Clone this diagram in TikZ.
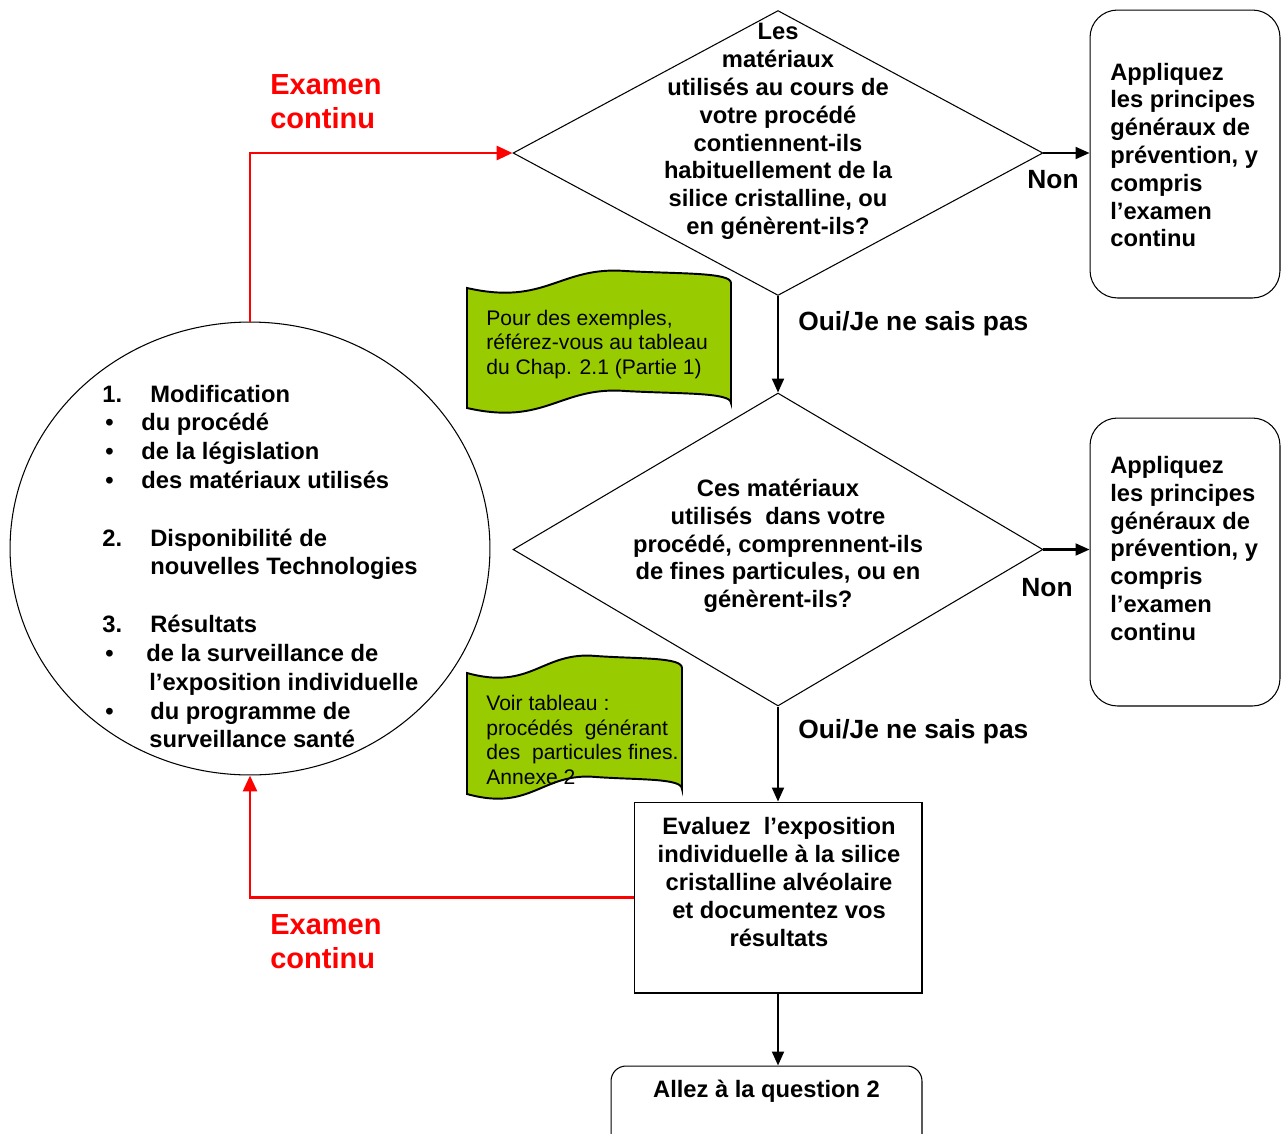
\documentclass[tikz,border=0pt]{standalone}
\usepackage{fontspec}
\setmainfont{Liberation Sans}
\usetikzlibrary{arrows.meta,shapes.geometric}
\definecolor{leaf}{RGB}{153,204,0}
\tikzset{
	question/.style={diamond, draw, line width=0.6pt, minimum width=10.6cm, inner sep=0pt},
	answer/.style={draw, line width=0.6pt, rounded corners=0.55cm, minimum width=3.8cm, minimum height=5.76cm},
	btext/.style={inner sep=0pt, font=\fontsize{13.5}{15.8}\selectfont\bfseries, align=center},
	edgelbl/.style={inner sep=0pt, font=\fontsize{15}{18}\selectfont\bfseries},
	note/.style={inner sep=0pt, font=\fontsize{12}{14}\selectfont, align=left, anchor=west},
	redlbl/.style={inner sep=0pt, text=red, font=\fontsize{16.5}{19.4}\selectfont\bfseries, align=left, anchor=west},
	flow/.style={line width=1.2pt, -{Triangle[length=0.28cm,width=0.24cm]}},
	review/.style={red, line width=1.7pt, -{Triangle[length=0.32cm,width=0.28cm]}},
	flag/.style={draw, line width=1.1pt, fill=leaf}
}
% wave shaped note: left, right, top, bottom (pixels)
\newcommand{\greenflag}[4]{%
	\draw[flag] (#1,#3) .. controls ({#1+0.3*(#2-#1)},{#3+18}) and ({#1+0.35*(#2-#1)},{#3-22}) .. ({#1+0.6*(#2-#1)},{#3-17})
		.. controls ({#1+0.8*(#2-#1)},{#3-14}) and (#2,{#3-16}) .. (#2,{#3-5})
		-- (#2,{#4-5}) .. controls (#2,{#4-16}) and ({#1+0.8*(#2-#1)},{#4-14}) .. ({#1+0.6*(#2-#1)},{#4-17})
		.. controls ({#1+0.35*(#2-#1)},{#4-22}) and ({#1+0.3*(#2-#1)},{#4+18}) .. (#1,#4) -- cycle;}

\begin{document}
\begin{tikzpicture}[x=0.02cm,y=-0.02cm]
			%%%%% START %%%%%
			\useasboundingbox (0,0) rectangle (1281,1133);
			\clip (0,0) rectangle (1281,1133);
			
			% questions
			\node[question, minimum height=5.7cm] (q1) at (778,153) {};
			\node[btext] (q1txt) at (778,131.5) {Les\\ matériaux\\ utilisés au cours de\\ votre procédé\\ contiennent-ils\\ habituellement de la\\ silice cristalline, ou\\ en génèrent-ils?};
			\node[question, minimum height=6.26cm] (q2) at (778,549.5) {};
			\node[btext] (q2txt) at (778,546) {Ces matériaux\\ utilisés~ dans votre\\ procédé, comprennent-ils\\ de fines particules, ou en\\ génèrent-ils?};
			
			% general principles
			\node[answer] (a1) at (1185,154) {};
			\node[btext, align=left, anchor=west] (a1txt) at (1110,155) {Appliquez\\ les principes\\ généraux de\\ prévention, y\\ compris\\ l’examen\\ continu};
			\node[answer] (a2) at (1185,562) {};
			\node[btext, align=left, anchor=west] (a2txt) at (1110,548.5) {Appliquez\\ les principes\\ généraux de\\ prévention, y\\ compris\\ l’examen\\ continu};
			
			% evaluation and next step
			\node[draw, line width=0.6pt, minimum width=5.76cm, minimum height=3.82cm] (eval) at (778,897.5) {};
			\node[btext] (evaltxt) at (779,882) {Evaluez~ l’exposition\\ individuelle à la silice\\ cristalline alvéolaire\\ et documentez vos\\ résultats};
			\node[draw, line width=0.6pt, rounded corners=0.3cm, minimum width=6.22cm, minimum height=2cm] (next) at (766.5,1116) {};
			\node[btext] (nexttxt) at (766.5,1091) {Allez à la question 2};
			
			% triggers for a review
			\node[draw, ellipse, line width=0.6pt, minimum width=9.6cm, minimum height=9.06cm, inner sep=0pt] (mods) at (250,548.5) {};
			\node[btext, align=left, anchor=west, font=\fontsize{13.5}{16.4}\selectfont\bfseries] (modstxt) at (102,566.5) {%
				\makebox[0.78cm][l]{1.}\hspace*{0.18cm}Modification\\
				\hspace*{0.06cm}\makebox[0.72cm][l]{\textbullet}du procédé\\
				\hspace*{0.06cm}\makebox[0.72cm][l]{\textbullet}de la législation\\
				\hspace*{0.06cm}\makebox[0.72cm][l]{\textbullet}des matériaux utilisés\\[16.4pt]
				\makebox[0.96cm][l]{2.}Disponibilité de\\
				\hspace*{0.96cm}nouvelles Technologies\\[16.4pt]
				\makebox[0.96cm][l]{3.}Résultats\\
				\hspace*{0.06cm}\makebox[0.82cm][l]{\textbullet}de la surveillance de\\
				\hspace*{0.94cm}l’exposition individuelle\\
				\hspace*{0.06cm}\makebox[0.90cm][l]{\textbullet}du programme de\\
				\hspace*{0.94cm}surveillance santé};
			
			% notes
			\greenflag{467}{731}{288}{408}
			\node[note] (note1) at (486,344.5) {Pour des exemples,\\ référez-vous au tableau\\ du Chap. 2.1 (Partie 1)};
			\greenflag{467}{682}{673}{794}
			\node[note] (note2) at (486,740) {Voir tableau :\\ procédés~ générant\\ des~ particules fines.\\ Annexe 2};
			
			% connectors
			\draw[flow] (q1.south) -- (q2.north);
			\draw[flow] (q2.south) -- (eval.north);
			\draw[flow] (eval.south) -- (eval.south |- next.north);
			\draw[flow] (q1.east) -- (q1.east -| a1.west);
			\draw[flow] (q2.east) -- (q2.east -| a2.west);
			\draw[review] (mods.north) |- (q1.west);
			\draw[review] (eval.west) -| (mods.south);
			
			% labels
			\node[edgelbl, anchor=west] (yes1) at (798,324) {Oui/Je ne sais pas};
			\node[edgelbl, anchor=west] (yes2) at (798,732) {Oui/Je ne sais pas};
			\node[edgelbl] (no1) at (1053,180) {Non};
			\node[edgelbl] (no2) at (1047,588) {Non};
			\node[redlbl] (rev1) at (270,102) {Examen\\ continu};
			\node[redlbl] (rev2) at (270,942) {Examen\\ continu};
			
			%%%%% END %%%%%
\end{tikzpicture}
\end{document}
